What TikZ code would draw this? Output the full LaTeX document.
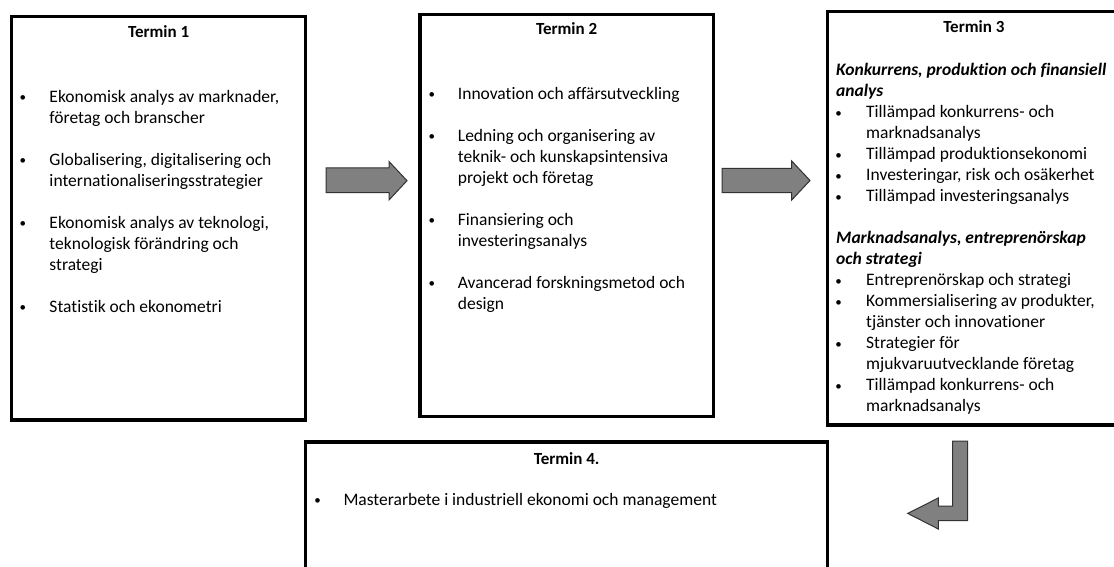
\documentclass[tikz,border=0pt]{standalone}
\usepackage{fontspec}
\setmainfont{Carlito}[Ligatures=NoCommon]
\definecolor{arrowgray}{RGB}{128,128,128}
\definecolor{arrowline}{RGB}{50,50,50}
\newcommand\smallbullet{\makebox[8.8pt][c]{\raisebox{0.5pt}{\fontsize{13}{13}\selectfont\textbullet}}}
\newcommand\bul[2]{\par\noindent\hangindent=#1\hangafter=1\makebox[#1][l]{\smallbullet}#2\par}
\newcommand\gap{\vspace{21pt}}
\begin{document}
\begin{tikzpicture}[x=1pt,y=-1pt,
  box/.style={draw=black,line width=3.2pt,inner sep=0pt,outer sep=0pt},
  ttl/.style={anchor=base,inner sep=0pt,font=\fontsize{17}{20}\selectfont\bfseries},
  txt/.style={anchor=base west,inner sep=0pt,font=\fontsize{17.5}{21}\selectfont},
  blk/.style={fill=arrowgray,draw=arrowline,line width=1pt,line join=miter}]
\useasboundingbox (0,0) rectangle (1114,567);
% boxes
\node[box,minimum width=294pt,minimum height=403.5pt] (t1) at (158.7,218.25) {};
\node[box,minimum width=293.3pt,minimum height=402.4pt] (t2) at (566.65,215.5) {};
\node[box,minimum width=292.3pt,minimum height=413.3pt] (t3) at (973.85,218.35) {};
\node[box,minimum width=522pt,minimum height=178pt] (t4) at (566.7,531) {};
% titles
\node[ttl] (h1) at (158.7,37.3) {Termin 1};
\node[ttl] (h2) at (566.65,35) {Termin 2};
\node[ttl] (h3) at (973.85,32.7) {Termin 3};
\node[ttl] (h4) at (566.7,464) {Termin 4.};
% contents
\node[txt] (c1) at (18.3,102.5) {\begin{minipage}[t]{300pt}
\bul{31pt}{Ekonomisk analys av marknader,\newline företag och branscher}\gap
\bul{31pt}{Globalisering, digitalisering och\newline internationaliseringsstrategier}\gap
\bul{31pt}{Ekonomisk analys av teknologi,\newline teknologisk förändring och\newline strategi}\gap
\bul{31pt}{Statistik och ekonometri}
\end{minipage}};
\node[txt] (c2) at (427.3,99.3) {\begin{minipage}[t]{300pt}
\bul{30.4pt}{Innovation och affärsutveckling}\gap
\bul{30.4pt}{Ledning och organisering av\newline teknik- och kunskapsintensiva\newline projekt och företag}\gap
\bul{30.4pt}{Finansiering och\newline investeringsanalys}\gap
\bul{30.4pt}{Avancerad forskningsmetod och\newline design}
\end{minipage}};
\node[txt] (c3) at (834,75.7) {\begin{minipage}[t]{300pt}
\noindent\hspace*{2pt}\textbf{\textit{Konkurrens, produktion och finansiell}}\newline
\hspace*{2pt}\textbf{\textit{analys}}\par
\bul{32pt}{Tillämpad konkurrens- och\newline marknadsanalys}
\bul{32pt}{Tillämpad produktionsekonomi}
\bul{32pt}{Investeringar, risk och osäkerhet}
\bul{32pt}{Tillämpad investeringsanalys}\gap
\noindent\hspace*{2pt}\textbf{\textit{Marknadsanalys, entreprenörskap}}\newline
\hspace*{2pt}\textbf{\textit{och strategi}}\par
\bul{32pt}{Entreprenörskap och strategi}
\bul{32pt}{Kommersialisering av produkter,\newline tjänster och innovationer}
\bul{32pt}{Strategier för\newline mjukvaruutvecklande företag}
\bul{32pt}{Tillämpad konkurrens- och\newline marknadsanalys}
\end{minipage}};
\node[txt] (c4) at (313,505) {\begin{minipage}[t]{480pt}
\bul{30.3pt}{Masterarbete i industriell ekonomi och management}
\end{minipage}};
% block arrows
\draw[blk] (326,168) -- (389,168) -- (389,161.5) -- (407,180.7) -- (389,200) -- (389,192.5) -- (326,192.5) -- cycle;
\draw[blk] (722,168.3) -- (791.7,168.3) -- (791.7,161) -- (810,180.5) -- (791.7,200) -- (791.7,192.7) -- (722,192.7) -- cycle;
\draw[blk] (952.7,441) -- (967.7,441) -- (967.7,520.7) -- (938.3,520.7) -- (938.3,529) -- (907.7,513.4) -- (938.3,498) -- (938.3,506) -- (952.7,506) -- cycle;
\end{tikzpicture}
\end{document}
